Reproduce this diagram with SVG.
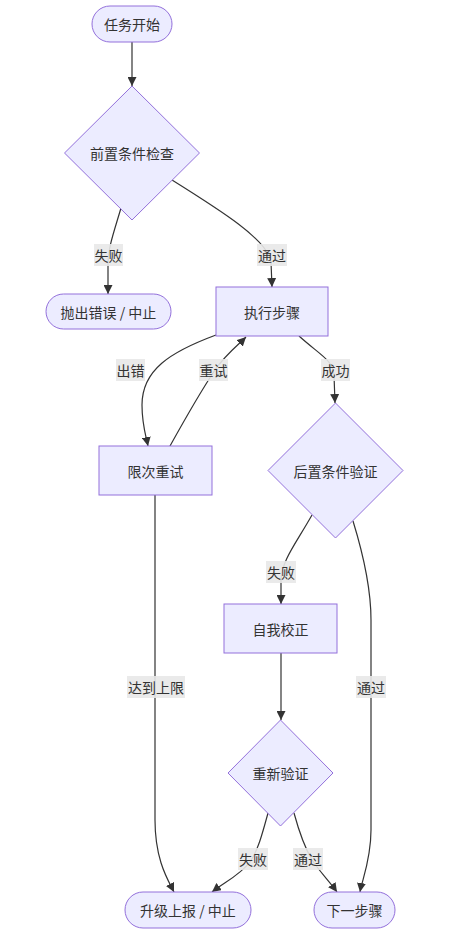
<svg xmlns="http://www.w3.org/2000/svg" width="475" height="937" viewBox="0 0 475 937">
<style>
.n{fill:#ECECFF;stroke:#9370DB;stroke-width:1}
.t{font-family:"Noto Sans CJK SC","Liberation Sans",sans-serif;font-size:14px;fill:#333;text-anchor:middle;dominant-baseline:central}
.e{fill:none;stroke:#333;stroke-width:1.2;marker-end:url(#arr)}
.lb{fill:#E8E8E8;opacity:0.9}
</style>
<defs>
<marker id="arr" viewBox="0 0 10 10" refX="10" refY="5" markerWidth="9" markerHeight="9" markerUnits="userSpaceOnUse" orient="auto">
<path d="M0,0 L10,5 L0,10 z" fill="#333"/>
</marker>
</defs>
<rect width="475" height="937" fill="#fff"/>
<g id="edges">
<path class="e" d="M132,42 L132,86"/>
<path class="e" d="M121,208 C113,235 108,248 108,265 L108,294"/>
<path class="e" d="M172,180 C220,210 268,240 271,262 L272,287"/>
<path class="e" d="M216,335 C170,352 142,370 142,405 C142,425 146,436 148,446"/>
<path class="e" d="M170,446 C190,410 205,385 215,370 C225,355 238,345 246,337"/>
<path class="e" d="M299,336 C320,355 333,360 334,375 L335,403"/>
<path class="e" d="M312,515 C295,545 282,560 281,580 L281,604"/>
<path class="e" d="M353,521 C365,560 371,590 371,620 L371,830 C371,860 362,880 360,892"/>
<path class="e" d="M155,495 L155,820 C155,860 168,880 174,892"/>
<path class="e" d="M281,653 L281,720"/>
<path class="e" d="M268,813 C262,835 258,850 250,862 C240,875 225,882 212,892"/>
<path class="e" d="M294,813 C300,835 305,848 312,860 C320,872 330,882 337,892"/>
</g>
<g id="edge-labels">
<rect class="lb" x="94" y="244" width="29" height="22"/><text class="t" x="108.5" y="255">失败</text>
<rect class="lb" x="257" y="244" width="30" height="22"/><text class="t" x="272" y="255">通过</text>
<rect class="lb" x="116" y="359" width="29" height="22"/><text class="t" x="130.5" y="370">出错</text>
<rect class="lb" x="199" y="359" width="29" height="22"/><text class="t" x="213.5" y="370">重试</text>
<rect class="lb" x="321" y="359" width="29" height="22"/><text class="t" x="335.5" y="370">成功</text>
<rect class="lb" x="266" y="561" width="30" height="22"/><text class="t" x="281" y="572">失败</text>
<rect class="lb" x="127" y="676" width="58" height="22"/><text class="t" x="156" y="687">达到上限</text>
<rect class="lb" x="356" y="676" width="30" height="22"/><text class="t" x="371" y="687">通过</text>
<rect class="lb" x="238" y="848" width="30" height="22"/><text class="t" x="253" y="859">失败</text>
<rect class="lb" x="293" y="848" width="30" height="22"/><text class="t" x="308" y="859">通过</text>
</g>
<g id="start"><rect class="n" x="92" y="6" width="80" height="36" rx="18"/><text class="t" x="132" y="24">任务开始</text></g>
<g id="precheck"><polygon class="n" points="132,86 199.5,153 132,220 64.5,153"/><text class="t" x="132" y="153">前置条件检查</text></g>
<g id="throw"><rect class="n" x="46" y="294" width="125" height="35" rx="17.5"/><text class="t" x="108.5" y="311.5">抛出错误 / 中止</text></g>
<g id="exec"><rect class="n" x="216" y="287" width="112" height="49"/><text class="t" x="272" y="311.5">执行步骤</text></g>
<g id="retry"><rect class="n" x="99" y="446" width="113" height="49"/><text class="t" x="155.5" y="470.5">限次重试</text></g>
<g id="postcheck"><polygon class="n" points="335.5,403 403,470.5 335.5,538 268,470.5"/><text class="t" x="335.5" y="470.5">后置条件验证</text></g>
<g id="selffix"><rect class="n" x="224" y="604" width="113" height="49"/><text class="t" x="280.5" y="628.5">自我校正</text></g>
<g id="reverify"><polygon class="n" points="280.5,720 333,773 280.5,826 228,773"/><text class="t" x="280.5" y="773">重新验证</text></g>
<g id="escalate"><rect class="n" x="125" y="892" width="126" height="36" rx="18"/><text class="t" x="188" y="910">升级上报 / 中止</text></g>
<g id="next"><rect class="n" x="314" y="892" width="81" height="36" rx="18"/><text class="t" x="354.5" y="910">下一步骤</text></g>
</svg>
